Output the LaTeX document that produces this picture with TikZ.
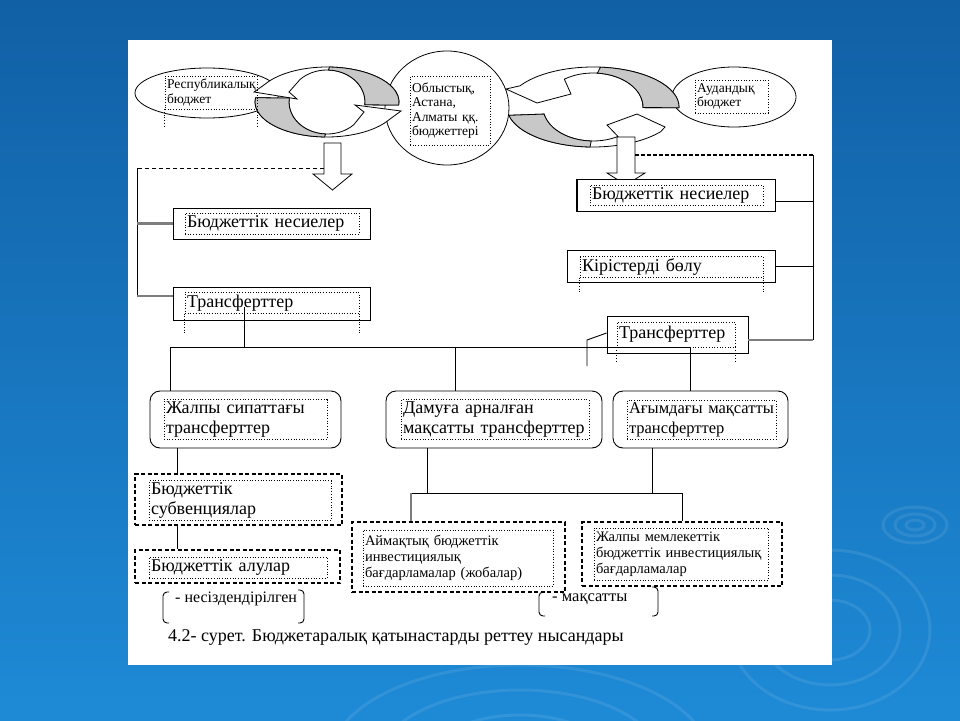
\documentclass[tikz,border=0pt]{standalone}
\usepackage{fontspec}
\setmainfont{Liberation Serif}
\usetikzlibrary{shapes.geometric}

\definecolor{bgtop}{RGB}{17,96,165}
\definecolor{bgbot}{RGB}{30,138,214}
\definecolor{arrowgray}{RGB}{200,200,200}
\definecolor{linegray}{RGB}{125,125,125}

\newcommand\fbig{\fontsize{18}{20}\selectfont}
\newcommand\fmid{\fontsize{16.5}{20}\selectfont}
\newcommand\fsmall{\fontsize{14.5}{16}\selectfont}
\newcommand\ftiny{\fontsize{13.5}{14.5}\selectfont}

\tikzset{
  box/.style={draw, fill=white, line width=0.9pt, inner sep=0pt},
  rbox/.style={draw, fill=white, rounded corners=10pt, line width=0.9pt, inner sep=0pt},
  dbox/.style={draw, fill=white, dash pattern=on 4pt off 2.5pt, line width=1.3pt, inner sep=0pt},
  tbox/.style={draw, dotted, line width=0.7pt, inner sep=2pt, align=left},
  oval/.style={draw, fill=white, ellipse, line width=0.8pt, inner sep=0pt},
  link/.style={line width=0.9pt},
  glink/.style={line width=2.2pt, draw=linegray},
  band/.style={line width=0.8pt, fill=white},
  gband/.style={line width=0.8pt, fill=arrowgray},
  ripple/.style={draw=white, opacity=0.09, line width=3pt}
}

\begin{document}
\begin{tikzpicture}[x=1pt, y=-1pt]
\shade[top color=bgtop, bottom color=bgbot] (0,0) rectangle (960,720);
\useasboundingbox (0,0) rectangle (960,720);

% ripples
\draw[ripple] (915,525) ellipse [x radius=9, y radius=5];
\draw[ripple] (915,525) ellipse [x radius=20, y radius=11];
\draw[ripple] (915,525) ellipse [x radius=32, y radius=18];
\draw[ripple] (830,630) ellipse [x radius=40, y radius=30];
\draw[ripple] (830,630) ellipse [x radius=70, y radius=55];
\draw[ripple] (830,630) ellipse [x radius=100, y radius=80];
\draw[ripple] (520,760) ellipse [x radius=90, y radius=45];
\draw[ripple] (520,760) ellipse [x radius=140, y radius=70];
\draw[ripple] (520,760) ellipse [x radius=190, y radius=95];

\fill[white] (128,40) rectangle (832,665);

% top row
\draw (207,93) node[oval, minimum width=144pt, minimum height=50pt] (resp) {};
\draw (447,108) node[oval, minimum width=124pt, minimum height=114pt] (obl) {};
\draw (734,97) node[oval, minimum width=124pt, minimum height=60pt] (aud) {};

\begin{scope}[shift={(327,102)}, yscale=-1]
\filldraw[band] (-5:72 and 35) arc[start angle=-5, end angle=150, x radius=72, y radius=35]
  -- (-73,10) -- (-30,3) -- (-38,10) -- (135:38 and 32)
  arc[start angle=135, end angle=-5, x radius=38, y radius=32] -- cycle;
\filldraw[gband] (-5:72 and 35) arc[start angle=-5, end angle=88, x radius=72, y radius=35]
  -- (88:38 and 32) arc[start angle=88, end angle=-5, x radius=38, y radius=32] -- cycle;
\filldraw[band] (173:72 and 35) arc[start angle=173, end angle=330, x radius=72, y radius=35]
  -- (74,-9) -- (28,-3) -- (37,-10) -- (315:38 and 32)
  arc[start angle=315, end angle=173, x radius=38, y radius=32] -- cycle;
\filldraw[gband] (173:72 and 35) arc[start angle=173, end angle=268, x radius=72, y radius=35]
  -- (268:38 and 32) arc[start angle=268, end angle=173, x radius=38, y radius=32] -- cycle;
\end{scope}

\begin{scope}[shift={(593,107)}, yscale=-1]
\filldraw[band] (-1:86 and 40) arc[start angle=-1, end angle=148, x radius=86, y radius=40]
  -- (-87,18) -- (-56,4) -- (-22,13) -- (125:50 and 34)
  arc[start angle=125, end angle=-1, x radius=50, y radius=34] -- cycle;
\filldraw[gband] (-1:86 and 40) arc[start angle=-1, end angle=85, x radius=86, y radius=40]
  -- (85:50 and 34) arc[start angle=85, end angle=-1, x radius=50, y radius=34] -- cycle;
\filldraw[band] (192:86 and 40) arc[start angle=192, end angle=322, x radius=86, y radius=40]
  -- (72,-20) -- (44,-7) -- (14,-18) -- (300:50 and 34)
  arc[start angle=300, end angle=192, x radius=50, y radius=34] -- cycle;
\filldraw[gband] (192:86 and 40) arc[start angle=192, end angle=268, x radius=86, y radius=40]
  -- (268:50 and 34) arc[start angle=268, end angle=192, x radius=50, y radius=34] -- cycle;
\end{scope}

\draw (211,92.5) node[tbox, text width=88pt, minimum height=33pt, font=\ftiny] (respt) {Республикалық\\бюджет};
\draw[dotted, line width=0.7pt] (respt.south west) -- ++(0,17);
\draw[dotted, line width=0.7pt] (respt.south east) -- ++(0,17);
\draw (450,110.5) node[tbox, text width=76pt, minimum height=69pt, font=\ftiny] (oblt) {Облыстық,\\Астана,\\Алматы ққ.\\бюджеттері};
\draw (731.5,96.5) node[tbox, text width=69pt, minimum height=33pt, font=\ftiny] (audt) {Аудандық\\бюджет};

% block arrows
\filldraw[band] (324,143) -- (341,143) -- (341,174) -- (352,174) -- (332.5,190) -- (313,174) -- (324,174) -- cycle;
\filldraw[band] (617,137) -- (635,137) -- (635,173) -- (645,173) -- (626,185) -- (607,173) -- (617,173) -- cycle;

% boxes
\draw (271.5,223.5) node[box, minimum width=197pt, minimum height=31pt] (bnL) {};
\draw (271.5,303.5) node[box, minimum width=197pt, minimum height=33pt] (trL) {};
\draw (676,195) node[box, minimum width=198pt, minimum height=32pt] (bnR) {};
\draw[line width=1.8pt] (bnR.north west) -- (bnR.south west) -- (bnR.south east);
\draw (671,266) node[box, minimum width=208pt, minimum height=32pt] (kb) {};
\draw (677.5,334.5) node[box, minimum width=141pt, minimum height=37pt] (trR) {};
\draw (245.5,419.5) node[rbox, minimum width=191pt, minimum height=57pt] (gen) {};
\draw (494,419.5) node[rbox, minimum width=216pt, minimum height=57pt] (dev) {};
\draw (700.5,419.5) node[rbox, minimum width=175pt, minimum height=57pt] (cur) {};
\draw (238.5,499.5) node[dbox, minimum width=207pt, minimum height=51pt] (sub) {};
\draw (237.5,566.5) node[dbox, minimum width=205pt, minimum height=33pt] (wd) {};
\draw (458.5,557) node[dbox, minimum width=213pt, minimum height=70pt] (reg) {};
\draw (682,554) node[dbox, minimum width=200pt, minimum height=64pt] (nat) {};

% texts
\draw (272,223.5) node[tbox, text width=170pt, minimum height=21pt, font=\fbig] (bnLt) {Бюджеттік несиелер};
\draw (272,303) node[tbox, text width=170pt, minimum height=20pt, font=\fbig] (trLt) {Трансферттер};
\draw[dotted, line width=0.7pt] (trLt.south west) -- ++(0,19);
\draw[dotted, line width=0.7pt] (trLt.south east) -- ++(0,19);
\draw (676.5,195) node[tbox, text width=169pt, minimum height=20pt, font=\fbig] (bnRt) {Бюджеттік несиелер};
\draw (671.5,267) node[tbox, text width=179pt, minimum height=20pt, font=\fbig] (kbt) {Кірістерді бөлу};
\draw[dotted, line width=0.7pt] (kbt.south west) -- ++(0,16);
\draw[dotted, line width=0.7pt] (kbt.south east) -- ++(0,16);
\draw (676,334.5) node[tbox, text width=114pt, minimum height=25pt, font=\fbig] (trRt) {Трансферттер};
\draw[dotted, line width=0.7pt] (trRt.south west) -- ++(0,15);
\draw[dotted, line width=0.7pt] (trRt.south east) -- ++(0,15);
\draw (245.5,419.5) node[tbox, text width=159pt, minimum height=39pt, font=\fbig] (gent) {Жалпы сипаттағы\\трансферттер};
\draw (495,419.5) node[tbox, text width=184pt, minimum height=39pt, font=\fbig] (devt) {Дамуға арналған\\\mbox{мақсатты трансферттер}};
\draw (701.5,419.5) node[tbox, text width=145pt, minimum height=39pt, font=\fmid] (curt) {\mbox{Ағымдағы мақсатты}\\трансферттер};
\draw (240,500.5) node[tbox, text width=178pt, minimum height=37pt, font=\fbig] (subt) {Бюджеттік\\субвенциялар};
\draw (238,567.5) node[tbox, text width=174pt, minimum height=21pt, font=\fbig] (wdt) {Бюджеттік алулар};
\draw (458,558) node[tbox, text width=186pt, minimum height=56pt, font=\fsmall] (regt) {Аймақтық бюджеттік\\инвестициялық\\\mbox{бағдарламалар (жобалар)}};
\draw (681,554) node[tbox, text width=170pt, minimum height=52pt, font=\fsmall] (natt) {Жалпы мемлекеттік\\\mbox{бюджеттік инвестициялық}\\бағдарламалар};

% left rail
\coordinate (lshaft) at (324,168);
\coordinate (lrT) at (137,168);
\coordinate (lrB) at (137,296);
\draw[link, dash pattern=on 4pt off 3pt] (lshaft) -- (lrT);
\draw[link] (lrT) -- (lrB);
\draw[glink] (bnL.west) -- (bnL.west -| lrT);
\draw[glink] (lrB) -- (lrB -| trL.west);

% right rail
\coordinate (rshaft) at (635,155);
\coordinate (rrT) at (813,155);
\coordinate (rrB) at (813,340);
\draw[line width=1.8pt, dash pattern=on 4pt off 2pt] (rshaft) -- (rrT);
\draw[link] (rrT) -- (rrB);
\draw[link] (rrT |- 0,201) -- (bnR.east |- 0,201);
\draw[link] (kb.east) -- (kb.east -| rrT);
\draw[glink] (rrB) -- (rrB -| trR.east);

% bus
\coordinate (busS) at (244,307);
\coordinate (busL) at (170,347);
\coordinate (busM) at (455,347);
\coordinate (busR) at (690,347);
\draw[link] (busS) -- (busS |- busL);
\draw[link] (busL) -- (busR);
\draw[link] (busL) -- (busL |- gen.north);
\draw[link] (busM) -- (busM |- dev.north);
\draw[link] (busR) -- (busR |- cur.north);
\coordinate (stubA) at (587,340);
\coordinate (stubB) at (587,366);
\draw[link] (trR.west |- 0,333) -- (stubA) -- (stubB);

% lower part
\draw[link] (gen.south -| 177,0) -- (sub.north -| 177,0);
\draw[link] (sub.south -| 177,0) -- (wd.north -| 177,0);
\coordinate (jL) at (411,493);
\coordinate (jR) at (682,493);
\draw[link] (dev.south -| 427,0) -- (427,493);
\draw[link] (cur.south -| 652,0) -- (652,493);
\draw[link] (jL) -- (jR);
\draw[glink] (jL) -- (jL |- reg.north);
\draw[link] (jR) -- (jR |- nat.north);

% brackets and caption
\draw[link, rounded corners=4pt] (169,592) -- (163,592) -- (163,623) -- (169,623);
\draw[link, rounded corners=4pt] (298,590) -- (304,590) -- (304,623) -- (298,623);
\draw (175,599) node[anchor=west, inner sep=0pt, font=\fontsize{16}{18}\selectfont] (nc) {- несіздендірілген};
\draw[link, rounded corners=4pt] (545,592) -- (539,592) -- (539,616) -- (545,616);
\draw[link, rounded corners=4pt] (652,587) -- (658,587) -- (658,616) -- (652,616);
\draw (552,599) node[anchor=west, inner sep=0pt, font=\fontsize{16.5}{18}\selectfont] (tg) {- мақсатты};
\draw (168,637) node[anchor=west, inner sep=0pt, font=\fbig] (cap) {4.2- сурет. Бюджетаралық қатынастарды реттеу нысандары};
\end{tikzpicture}
\end{document}
